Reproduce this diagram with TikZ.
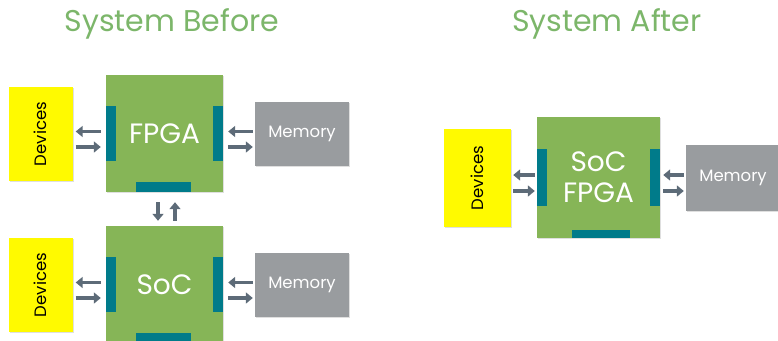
\documentclass[tikz,border=0pt]{standalone}
\usepackage{fontspec}
\setmainfont{Poppins}
\usepackage{tikz}
\usetikzlibrary{arrows.meta,shadows}

\definecolor{chipgreen}{RGB}{134,181,87}
\definecolor{portteal}{RGB}{0,123,138}
\definecolor{devyellow}{RGB}{255,250,0}
\definecolor{memgray}{RGB}{153,156,159}
\definecolor{arrowgray}{RGB}{93,107,120}
\definecolor{titlegreen}{RGB}{124,182,106}

\begin{document}
\begin{tikzpicture}[x=1pt, y=1pt,
    chip/.style = {fill=chipgreen, inner sep=0, minimum width=117pt, minimum height=117pt, text=white, align=center, font=\fontsize{28}{31}\selectfont, drop shadow={shadow xshift=1pt, shadow yshift=-1pt, opacity=0.25}},
    devnode/.style = {fill=devyellow, inner sep=0, minimum width=64pt, minimum height=94pt, font=\fontsize{16.5}{18}\selectfont, drop shadow={shadow xshift=1pt, shadow yshift=-1pt, opacity=0.25}},
    memnode/.style = {fill=memgray, inner sep=0, minimum width=94pt, minimum height=64pt, text=white, font=\fontsize{16.5}{18}\selectfont, drop shadow={shadow xshift=1pt, shadow yshift=-1pt, opacity=0.25}},
    vport/.style = {fill=portteal, inner sep=0, minimum width=10pt, minimum height=55pt},
    hport/.style = {fill=portteal, inner sep=0, minimum width=55pt, minimum height=10pt},
    title/.style = {text=titlegreen, font=\fontsize{30}{32}\selectfont},
    arr/.style = {-{Triangle[width=11pt,length=7pt]}, line width=3.5pt, draw=arrowgray}]
    \useasboundingbox (0,0) rectangle (778,-340);

    % titles
    \node[title] (before) at (172,-24) {System Before};
    \node[title] (after) at (607,-24) {System After};

    % system before, top
    \node[chip] (fpga) at (164.5,-133.5) {FPGA};
    \node[vport, anchor=west] (fpgaL) at (fpga.west) {};
    \node[vport, anchor=east] (fpgaR) at (fpga.east) {};
    \node[hport, anchor=south] (fpgaB) at ([xshift=-1pt]fpga.south) {};
    \node[devnode] (devA) at (40.5,-134) {\rotatebox{90}{Devices}};
    \node[memnode] (memA) at (302,-134) {Memory};
    \draw[arr, shorten <=5pt, shorten >=3pt] ([yshift=2pt]fpgaL.west) -- ([yshift=2pt]fpgaL.west -| devA.east);
    \draw[arr, shorten <=3pt, shorten >=5pt] ([yshift=-13.5pt]fpgaL.west -| devA.east) -- ([yshift=-13.5pt]fpgaL.west);
    \draw[arr, shorten <=2pt, shorten >=5pt] ([yshift=2pt]fpgaR.east -| memA.west) -- ([yshift=2pt]fpgaR.east);
    \draw[arr, shorten <=5pt, shorten >=2pt] ([yshift=-13.5pt]fpgaR.east) -- ([yshift=-13.5pt]fpgaR.east -| memA.west);

    % system before, bottom
    \node[chip] (soc) at (164.5,-284.5) {SoC};
    \node[vport, anchor=west] (socL) at (soc.west) {};
    \node[vport, anchor=east] (socR) at (soc.east) {};
    \node[hport, anchor=south] (socB) at ([xshift=-1pt]soc.south) {};
    \node[devnode] (devB) at (40.5,-285) {\rotatebox{90}{Devices}};
    \node[memnode] (memB) at (302,-285) {Memory};
    \draw[arr, shorten <=5pt, shorten >=3pt] ([yshift=2pt]socL.west) -- ([yshift=2pt]socL.west -| devB.east);
    \draw[arr, shorten <=3pt, shorten >=5pt] ([yshift=-13.5pt]socL.west -| devB.east) -- ([yshift=-13.5pt]socL.west);
    \draw[arr, shorten <=2pt, shorten >=5pt] ([yshift=2pt]socR.east -| memB.west) -- ([yshift=2pt]socR.east);
    \draw[arr, shorten <=5pt, shorten >=2pt] ([yshift=-13.5pt]socR.east) -- ([yshift=-13.5pt]socR.east -| memB.west);

    % link between the two chips
    \draw[arr, shorten <=10pt, shorten >=5pt] ([xshift=-6.5pt]fpga.south) -- ([xshift=-6.5pt]fpga.south |- soc.north);
    \draw[arr, shorten <=5pt, shorten >=10pt] ([xshift=10.5pt]fpga.south |- soc.north) -- ([xshift=10.5pt]fpga.south);

    % system after
    \node[chip, minimum width=123pt, minimum height=121pt] (sfpga) at (598.5,-177.5) {SoC\\FPGA};
    \node[vport, minimum height=57pt, anchor=west] (sfpgaL) at (sfpga.west) {};
    \node[vport, minimum height=57pt, anchor=east] (sfpgaR) at (sfpga.east) {};
    \node[hport, minimum width=58pt, minimum height=8pt, anchor=south] (sfpgaB) at ([xshift=2pt]sfpga.south) {};
    \node[devnode, minimum width=67pt, minimum height=98pt] (devC) at (477.5,-178) {\rotatebox{90}{Devices}};
    \node[memnode, minimum height=66pt] (memC) at (733,-178) {Memory};
    \draw[arr, shorten <=2pt, shorten >=2pt] ([yshift=2.5pt]sfpgaL.west) -- ([yshift=2.5pt]sfpgaL.west -| devC.east);
    \draw[arr, shorten <=2pt, shorten >=2pt] ([yshift=-13.5pt]sfpgaL.west -| devC.east) -- ([yshift=-13.5pt]sfpgaL.west);
    \draw[arr, shorten <=2pt, shorten >=3pt] ([yshift=2.5pt]sfpgaR.east -| memC.west) -- ([yshift=2.5pt]sfpgaR.east);
    \draw[arr, shorten <=3pt, shorten >=2pt] ([yshift=-13.5pt]sfpgaR.east) -- ([yshift=-13.5pt]sfpgaR.east -| memC.west);
\end{tikzpicture}
\end{document}
